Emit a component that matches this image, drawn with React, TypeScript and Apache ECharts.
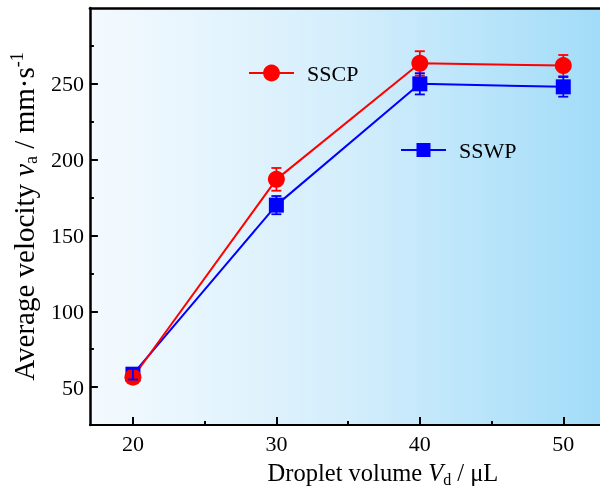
import React, { useEffect, useRef } from 'react';
import * as echarts from 'echarts';

const volumes = [20, 30, 40, 50];
const sscpVelocity = [56.5, 187, 263.5, 262];
const sscpError = [3, 7.5, 8, 7];
const sswpVelocity = [58.5, 170, 250, 248];
const sswpError = [3.5, 6, 7, 6.5];
const xMajorTicks = [20, 30, 40, 50];
const xMinorTicks = [25, 35, 45];
const yMajorTicks = [50, 100, 150, 200, 250];
const yMinorTicks = [75, 125, 175, 225, 275];

const FONT = "'Liberation Serif', 'Times New Roman', serif";
const RED = '#ff0000';
const BLUE = '#0000ff';

function errorSeries(name: string, color: string, vals: number[], errs: number[]) {
  return {
    type: 'custom',
    name: name + ' error',
    silent: true,
    z: 3,
    data: volumes.map((x, i) => [x, vals[i] - errs[i], vals[i] + errs[i]]),
    encode: { x: 0, y: [1, 2] },
    renderItem: (params: any, api: any) => {
      const x = api.value(0);
      const lo = api.coord([x, api.value(1)]);
      const hi = api.coord([x, api.value(2)]);
      const hw = 5;
      const style = { stroke: color, lineWidth: 1.8, fill: 'none' };
      return {
        type: 'group',
        children: [
          { type: 'line', shape: { x1: lo[0], y1: lo[1], x2: hi[0], y2: hi[1] }, style },
          { type: 'line', shape: { x1: lo[0] - hw, y1: lo[1], x2: lo[0] + hw, y2: lo[1] }, style },
          { type: 'line', shape: { x1: hi[0] - hw, y1: hi[1], x2: hi[0] + hw, y2: hi[1] }, style },
        ],
      };
    },
  };
}

function makeRich(size: number, subSize: number, lh: number) {
  return {
    n: { fontSize: size, fontFamily: FONT, color: '#000', lineHeight: lh },
    i: { fontSize: size, fontFamily: FONT, fontStyle: 'italic', color: '#000', lineHeight: lh },
    sub: { fontSize: subSize, fontFamily: FONT, color: '#000', lineHeight: subSize, verticalAlign: 'bottom' },
    sup: { fontSize: subSize, fontFamily: FONT, color: '#000', lineHeight: subSize, verticalAlign: 'top' },
  };
}

export default function App() {
  const ref = useRef<HTMLDivElement>(null);
  useEffect(() => {
    if (!ref.current) return;
    const chart = echarts.init(ref.current, null, { renderer: 'svg' });
    const axisCommon = {
      type: 'value',
      splitLine: { show: false },
    };
    const X_MIN = 17;
    const X_MAX = 52.56;
    chart.setOption({
      animation: false,
      grid: {
        left: 88,
        top: 8,
        right: 0,
        bottom: 68,
        show: true,
        borderWidth: 0,
        backgroundColor: new echarts.graphic.LinearGradient(0, 0, 1, 0, [
          { offset: 0, color: '#f4fafe' },
          { offset: 0.5, color: '#d4eefc' },
          { offset: 1, color: '#a2dcf8' },
        ]),
      },
      legend: [
        {
          data: ['SSCP'],
          left: 243,
          top: 57,
          itemWidth: 45,
          itemHeight: 21,
          textStyle: { fontSize: 22, fontFamily: FONT, color: '#000', padding: [0, 0, 0, 8] },
        },
        {
          data: ['SSWP'],
          left: 395,
          top: 134,
          itemWidth: 45,
          itemHeight: 17.5,
          textStyle: { fontSize: 22, fontFamily: FONT, color: '#000', padding: [0, 0, 0, 8] },
        },
      ],
      xAxis: [
        {
          ...axisCommon,
          min: X_MIN,
          max: X_MAX,
          position: 'bottom',
          axisLine: { show: true, lineStyle: { color: '#000', width: 2 } },
          axisTick: { show: true, inside: true, length: 8, customValues: xMajorTicks, lineStyle: { color: '#000', width: 2 } },
          axisLabel: { customValues: xMajorTicks, margin: 7, fontSize: 22, fontFamily: FONT, color: '#000' },
          name: '{n|Droplet volume }{i|V}{sub|d}{n| / μL}',
          nameLocation: 'middle',
          nameGap: 32,
          nameTextStyle: { rich: makeRich(24.5, 16, 30), padding: [0, 0, 0, 76] },
        },
        {
          ...axisCommon,
          min: X_MIN,
          max: X_MAX,
          position: 'bottom',
          axisLine: { show: false },
          axisTick: { show: true, inside: true, length: 4, customValues: xMinorTicks, lineStyle: { color: '#000', width: 2 } },
          axisLabel: { show: false },
        },
        {
          ...axisCommon,
          min: X_MIN,
          max: X_MAX,
          position: 'top',
          axisLine: { show: true, lineStyle: { color: '#000', width: 2.5 } },
          axisTick: { show: false },
          axisLabel: { show: false },
        },
      ],
      yAxis: [
        {
          ...axisCommon,
          min: 25,
          max: 300,
          position: 'left',
          axisLine: { show: true, lineStyle: { color: '#000', width: 2.5 } },
          axisTick: { show: true, inside: true, length: 8, customValues: yMajorTicks, lineStyle: { color: '#000', width: 2 } },
          axisLabel: { customValues: yMajorTicks, margin: 6, fontSize: 22, fontFamily: FONT, color: '#000' },
          name: '{n|Average velocity }{i|v}{sub|a}{n| / mm·s}{sup|-1}',
          nameLocation: 'middle',
          nameRotate: 90,
          nameGap: 37,
          nameTextStyle: { rich: makeRich(29, 18, 32) },
        },
        {
          ...axisCommon,
          min: 25,
          max: 300,
          position: 'left',
          axisLine: { show: false },
          axisTick: { show: true, inside: true, length: 4, customValues: yMinorTicks, lineStyle: { color: '#000', width: 2 } },
          axisLabel: { show: false },
        },
      ],
      series: [
        {
          type: 'line',
          name: 'SSWP',
          data: volumes.map((x, i) => [x, sswpVelocity[i]]),
          symbol: 'rect',
          symbolSize: 15,
          lineStyle: { color: BLUE, width: 2 },
          itemStyle: { color: BLUE },
          z: 2,
        },
        {
          type: 'line',
          name: 'SSCP',
          data: volumes.map((x, i) => [x, sscpVelocity[i]]),
          symbol: 'circle',
          symbolSize: 17,
          lineStyle: { color: RED, width: 2 },
          itemStyle: { color: RED },
          z: 2,
        },
        errorSeries('SSCP', RED, sscpVelocity, sscpError),
        errorSeries('SSWP', BLUE, sswpVelocity, sswpError),
      ],
    });
    return () => chart.dispose();
  }, []);
  return <div ref={ref} style={{ position: 'fixed', left: 0, top: 0, width: 600, height: 493 }} />;
}
